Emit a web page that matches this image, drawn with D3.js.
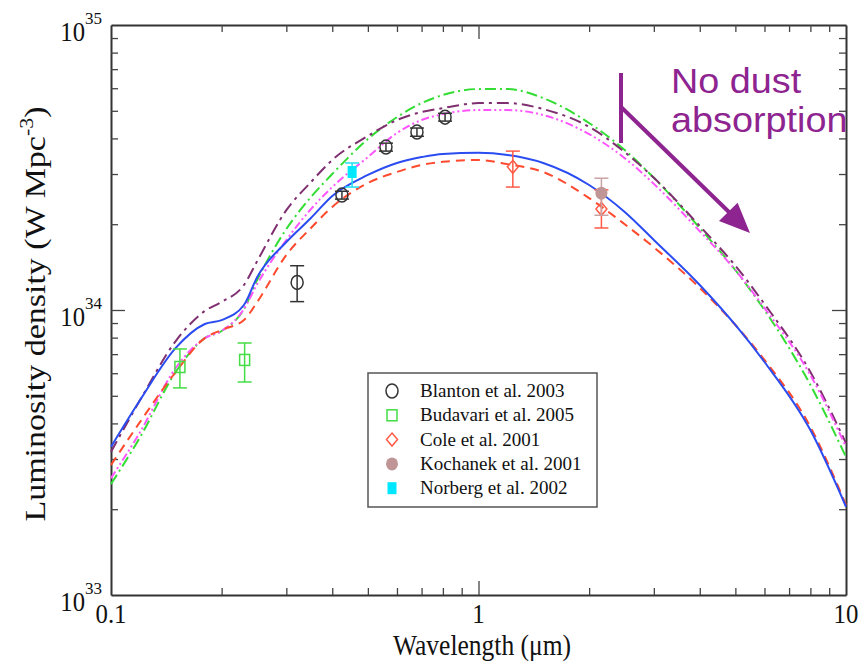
<!DOCTYPE html>
<html>
<head>
<meta charset="utf-8">
<script src="https://cdn.jsdelivr.net/npm/d3@7"></script>
<style>
  body { margin: 0; background: #fff; }
  text { font-family: "Liberation Serif", "Times New Roman", serif; }
  text.note { font-family: "Liberation Sans", Arial, sans-serif; }
</style>
</head>
<body>
<svg id="chart" width="859" height="662"></svg>
<script>
// wavelength grid (micron) shared by the model curves
var wavelengths = [0.1, 0.12, 0.15, 0.18, 0.2, 0.23, 0.25, 0.3, 0.35, 0.4, 0.5, 0.6, 0.7, 0.8,
                   1.0, 1.2, 1.5, 2, 2.5, 3, 4, 5, 6, 8, 10];

// model luminosity densities (W Mpc^-3)
var solidBlue = [3.31e33, 4.83e33, 7.36e33, 8.93e33, 9.22e33, 1.041e34, 1.306e34, 1.732e34, 2.103e34, 2.512e34,
                 2.977e34, 3.28e34, 3.44e34, 3.53e34, 3.56e34, 3.50e34, 3.28e34, 2.745e34, 2.207e34, 1.761e34,
                 1.224e34, 8.86e33, 6.57e33, 3.79e33, 2.04e33];
var dashedRed = [2.86e33, 4.05e33, 6.06e33, 7.97e33, 8.51e33, 9.22e33, 1.067e34, 1.56e34, 1.94e34, 2.30e34,
                 2.79e34, 3.05e34, 3.23e34, 3.31e34, 3.36e34, 3.25e34, 3.05e34, 2.47e34, 2.00e34, 1.66e34,
                 1.195e34, 8.86e33, 6.68e33, 3.89e33, 2.07e33];
var dashDotGreen = [2.45e33, 3.58e33, 6.06e33, 7.97e33, 8.44e33, 1.008e34, 1.275e34, 1.924e34, 2.49e34, 3.00e34,
                    3.98e34, 4.75e34, 5.32e34, 5.68e34, 5.96e34, 5.96e34, 5.54e34, 4.53e34, 3.64e34, 2.91e34,
                    1.94e34, 1.38e34, 1.0e34, 5.46e33, 3.05e33];
var dashDotPurple = [3.18e33, 4.83e33, 7.78e33, 9.92e33, 1.067e34, 1.224e34, 1.486e34, 2.24e34, 2.81e34, 3.36e34,
                     4.08e34, 4.64e34, 4.95e34, 5.11e34, 5.32e34, 5.32e34, 5.07e34, 4.39e34, 3.58e34, 2.91e34,
                     1.97e34, 1.43e34, 1.05e34, 6.06e33, 3.41e33];
var dashDotDotMagenta = [2.57e33, 3.73e33, 6.26e33, 7.97e33, 8.44e33, 1.008e34, 1.234e34, 1.76e34, 2.26e34, 2.70e34,
                         3.44e34, 4.18e34, 4.64e34, 4.87e34, 5.03e34, 5.03e34, 4.83e34, 4.14e34, 3.41e34, 2.77e34,
                         1.89e34, 1.38e34, 1.016e34, 5.91e33, 3.31e33];

// observations: wavelength, value, lower, upper
var blantonLam = [0.321, 0.425, 0.560, 0.680, 0.811];
var blantonL   = [1.25e34, 2.53e34, 3.73e34, 4.21e34, 4.75e34];
var blantonLo  = [1.07e34, 2.45e34, 3.61e34, 4.07e34, 4.60e34];
var blantonHi  = [1.43e34, 2.61e34, 3.85e34, 4.35e34, 4.90e34];

var budavariLam = [0.154, 0.231];
var budavariL   = [6.31e33, 6.68e33];
var budavariLo  = [5.33e33, 5.59e33];
var budavariHi  = [7.30e33, 7.66e33];

var coleLam = [1.24, 2.16];
var coleL   = [3.18e34, 2.26e34];
var coleLo  = [2.70e34, 1.94e34];
var coleHi  = [3.61e34, 2.64e34];

var kochanekLam = [2.16];
var kochanekL   = [2.57e34];
var kochanekLo  = [2.15e34];
var kochanekHi  = [2.90e34];

var norbergLam = [0.453];
var norbergL   = [3.05e34];
var norbergLo  = [2.70e34];
var norbergHi  = [3.28e34];

var legendLabels = ["Blanton et al. 2003", "Budavari et al. 2005", "Cole et al. 2001",
                    "Kochanek et al. 2001", "Norberg et al. 2002"];
var xTickLabels = ["0.1", "1", "10"];
var yTickExponents = ["33", "34", "35"];

var svg = d3.select("#chart");

var x = d3.scaleLog().domain([0.1, 10]).range([111, 846]);
var y = d3.scaleLog().domain([1e33, 1e35]).range([595, 25]);

// ---- axes (ticks on all four sides, pointing inward)
var xMinor = x.ticks().filter(function(t) { return Math.abs(Math.log10(t) % 1) > 1e-6; });
var yMinor = y.ticks().filter(function(t) { return Math.abs(Math.log10(t) % 1) > 1e-6; });
var xMajor = [1];
var yMajor = [1e34];

function drawAxis(gen, tr, minor, major) {
  svg.append("g").attr("transform", tr)
    .call(gen.tickValues(minor).tickSizeInner(-7).tickSizeOuter(0).tickFormat(""))
    .call(function(g) {
      g.select(".domain").attr("stroke", "#333").attr("stroke-width", 2);
      g.selectAll(".tick line").attr("stroke", "#444").attr("stroke-width", 1.3);
    });
  svg.append("g").attr("transform", tr)
    .call(gen.tickValues(major).tickSizeInner(-14).tickSizeOuter(0).tickFormat(""))
    .call(function(g) {
      g.select(".domain").remove();
      g.selectAll(".tick line").attr("stroke", "#444").attr("stroke-width", 1.3);
    });
}
drawAxis(d3.axisBottom(x), "translate(0,595)", xMinor, xMajor);
drawAxis(d3.axisTop(x), "translate(0,25)", xMinor, xMajor);
drawAxis(d3.axisLeft(y), "translate(111,0)", yMinor, yMajor);
drawAxis(d3.axisRight(y), "translate(846,0)", yMinor, yMajor);

// tick labels
svg.selectAll(".xlab").data(xTickLabels).enter().append("text")
  .attr("transform", function(d) { return "translate(" + x(+d) + ",623) scale(0.92,1)"; })
  .attr("text-anchor", "middle")
  .attr("font-size", "27px")
  .attr("fill", "#111")
  .text(function(d) { return d; });

yTickExponents.forEach(function(e) {
  var py = y(Math.pow(10, +e));
  svg.append("text")
    .attr("transform", "translate(85," + (py + 16) + ") scale(0.88,1)")
    .attr("text-anchor", "end")
    .attr("font-size", "28px")
    .attr("fill", "#111")
    .text("10");
  svg.append("text")
    .attr("x", 85).attr("y", py - 1)
    .attr("font-size", "17px")
    .attr("fill", "#111")
    .text(e);
});

// axis titles
svg.append("text")
  .attr("transform", "translate(482,655) scale(0.85,1)")
  .attr("text-anchor", "middle")
  .attr("font-size", "30px")
  .attr("fill", "#111")
  .text("Wavelength (\u03bcm)");

var ylab = svg.append("text")
  .attr("transform", "translate(45,314) rotate(-90) scale(1,0.85)")
  .attr("text-anchor", "middle")
  .attr("font-size", "34px")
  .attr("fill", "#111");
ylab.append("tspan").text("Luminosity density (W Mpc");
ylab.append("tspan").attr("font-size", "22px").attr("dy", -14).text("-3");
ylab.append("tspan").attr("dy", 14).text(")");

// ---- model curves
var line = d3.line()
  .x(function(d) { return x(d[0]); })
  .y(function(d) { return y(d[1]); })
  .curve(d3.curveMonotoneX);

var curves = [
  { vals: dashDotGreen, color: "#33dd33", dash: "11,4,2,4" },
  { vals: dashDotPurple, color: "#7f2f70", dash: "12,5,3,5" },
  { vals: dashDotDotMagenta, color: "#ff55ff", dash: "8,3,2,3,2,3" },
  { vals: dashedRed, color: "#ff4a2e", dash: "9,6" },
  { vals: solidBlue, color: "#2a4cf0", dash: null }
];
curves.forEach(function(c) {
  svg.append("path")
    .datum(wavelengths.map(function(w, i) { return [w, c.vals[i]]; }))
    .attr("d", line)
    .attr("fill", "none")
    .attr("stroke", c.color)
    .attr("stroke-width", 2)
    .attr("stroke-dasharray", c.dash);
});

// ---- observations with error bars
function errorBars(lam, lo, hi, color) {
  var g = svg.append("g").attr("stroke", color).attr("stroke-width", 1.5);
  lam.forEach(function(w, i) {
    var px = x(w);
    g.append("line").attr("x1", px).attr("x2", px).attr("y1", y(lo[i])).attr("y2", y(hi[i]));
    g.append("line").attr("x1", px - 7).attr("x2", px + 7).attr("y1", y(lo[i])).attr("y2", y(lo[i]));
    g.append("line").attr("x1", px - 7).attr("x2", px + 7).attr("y1", y(hi[i])).attr("y2", y(hi[i]));
  });
}

function marker(g, kind, px, py) {
  if (kind === "circle") {
    g.append("ellipse").attr("cx", px).attr("cy", py).attr("rx", 6).attr("ry", 7)
      .attr("fill", "none").attr("stroke", "#333").attr("stroke-width", 1.5);
  } else if (kind === "square") {
    g.append("rect").attr("x", px - 5).attr("y", py - 5.5).attr("width", 10).attr("height", 11)
      .attr("fill", "none").attr("stroke", "#44dd44").attr("stroke-width", 1.5);
  } else if (kind === "diamond") {
    g.append("path")
      .attr("d", "M" + px + "," + (py - 6.5) + "L" + (px + 5.5) + "," + py + "L" + px + "," + (py + 6.5) +
                 "L" + (px - 5.5) + "," + py + "Z")
      .attr("fill", "none").attr("stroke", "#ff5a46").attr("stroke-width", 1.5);
  } else if (kind === "dot") {
    g.append("ellipse").attr("cx", px).attr("cy", py).attr("rx", 6).attr("ry", 6.5)
      .attr("fill", "#bf9595").attr("stroke", "none");
  } else if (kind === "fsquare") {
    g.append("rect").attr("x", px - 4.5).attr("y", py - 6).attr("width", 9).attr("height", 12)
      .attr("fill", "#00e8ff").attr("stroke", "none");
  }
}

var sets = [
  { lam: budavariLam, L: budavariL, lo: budavariLo, hi: budavariHi, kind: "square", err: "#44dd44" },
  { lam: coleLam, L: coleL, lo: coleLo, hi: coleHi, kind: "diamond", err: "#ff5a46" },
  { lam: kochanekLam, L: kochanekL, lo: kochanekLo, hi: kochanekHi, kind: "dot", err: "#c9a3a3" },
  { lam: norbergLam, L: norbergL, lo: norbergLo, hi: norbergHi, kind: "fsquare", err: "#22e0f0" },
  { lam: blantonLam, L: blantonL, lo: blantonLo, hi: blantonHi, kind: "circle", err: "#333" }
];
sets.forEach(function(s) {
  errorBars(s.lam, s.lo, s.hi, s.err);
  var g = svg.append("g");
  s.lam.forEach(function(w, i) { marker(g, s.kind, x(w), y(s.L[i])); });
});

// ---- legend
var legend = svg.append("g");
legend.append("rect")
  .attr("x", 368).attr("y", 373).attr("width", 229).attr("height", 134)
  .attr("fill", "#fff").attr("stroke", "#555").attr("stroke-width", 1.5);
var legendKinds = ["circle", "square", "diamond", "dot", "fsquare"];
legendLabels.forEach(function(lbl, i) {
  var ly = 391 + i * 24.3;
  var g = legend.append("g");
  marker(g, legendKinds[i], 392, ly);
  legend.append("text")
    .attr("x", 420).attr("y", ly + 6)
    .attr("font-size", "19px")
    .attr("fill", "#111")
    .text(lbl);
});

// ---- annotation
var purple = "#8e2490";
svg.append("line")
  .attr("x1", 621).attr("x2", 621).attr("y1", 73).attr("y2", 143)
  .attr("stroke", purple).attr("stroke-width", 4);
svg.append("line")
  .attr("x1", 621).attr("y1", 107).attr("x2", 732).attr("y2", 215)
  .attr("stroke", purple).attr("stroke-width", 4);
svg.append("path")
  .attr("d", "M750,233L719,221L737.6,202.7Z")
  .attr("fill", purple);
svg.append("text")
  .attr("class", "note")
  .attr("transform", "translate(671,93) scale(1.08,1)")
  .attr("font-size", "35px")
  .attr("fill", purple)
  .text("No dust");
svg.append("text")
  .attr("class", "note")
  .attr("transform", "translate(671,132) scale(1.08,1)")
  .attr("font-size", "35px")
  .attr("fill", purple)
  .text("absorption");
</script>
</body>
</html>
